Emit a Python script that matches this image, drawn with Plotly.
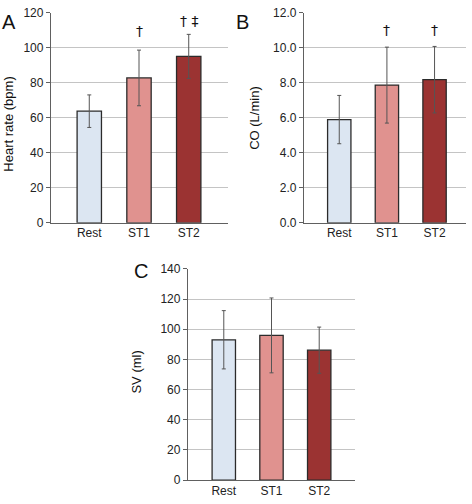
import plotly.graph_objects as go

categories = ["Rest", "ST1", "ST2"]
colors = ["#dce6f2", "#e0928f", "#9b3332"]

hr_mean = [63.8, 82.8, 95.1]
hr_sd = [9.3, 15.9, 12.6]
co_mean = [5.9, 7.87, 8.18]
co_sd = [1.38, 2.17, 1.9]
sv_mean = [93.0, 95.9, 86.1]
sv_sd = [19.3, 24.8, 15.3]

hr_ticks = [0, 20, 40, 60, 80, 100, 120]
co_ticks = [0, 2, 4, 6, 8, 10, 12]
co_ticklabels = ["0.0", "2.0", "4.0", "6.0", "8.0", "10.0", "12.0"]
sv_ticks = [0, 20, 40, 60, 80, 100, 120, 140]

W, H = 472, 504
FONT = "Liberation Sans"

def px_x(a, b):
    return [a / W, b / W]

def px_y(top, bottom):
    return [1 - bottom / H, 1 - top / H]

fig = go.Figure()

panels = [
    ("x", "y", hr_mean, hr_sd),
    ("x2", "y2", co_mean, co_sd),
    ("x3", "y3", sv_mean, sv_sd),
]
for xa, ya, m, sd in panels:
    fig.add_trace(go.Bar(
        x=[0, 1, 2], y=m, xaxis=xa, yaxis=ya, width=0.49,
        marker=dict(color=colors, line=dict(color="#2b2b2b", width=1.3)),
        error_y=dict(type="data", array=sd, visible=True, color="#555555",
                     thickness=1, width=2),
        showlegend=False, hoverinfo="skip",
    ))

axis_common = dict(showline=True, linecolor="#606060", linewidth=1.3,
                   tickfont=dict(family=FONT, size=12, color="#222"),
                   zeroline=False, fixedrange=True)

def xaxis(dom, rng, anchor):
    return dict(domain=dom, range=rng, anchor=anchor, tickvals=[0, 1, 2],
                ticktext=categories, showgrid=False, ticks="",
                ticklabelstandoff=-1, **axis_common)

def yaxis(dom, rng, anchor, tv, tt=None):
    d = dict(domain=dom, range=rng, anchor=anchor, tickvals=tv,
             ticks="outside", ticklen=4, tickcolor="#606060",
             showgrid=True, gridcolor="#c4c4c4", gridwidth=1, **axis_common)
    if tt:
        d["ticktext"] = tt
    return d

fig.update_layout(
    width=W, height=H, margin=dict(l=0, r=0, t=0, b=0),
    plot_bgcolor="white", paper_bgcolor="white", bargap=0.5,
    xaxis=xaxis(px_x(51, 228), [-0.77, 2.79], "y"),
    yaxis=yaxis(px_y(6, 222), [0, 120], "x", hr_ticks),
    xaxis2=xaxis(px_x(304, 466), [-0.74, 2.66], "y2"),
    yaxis2=yaxis(px_y(6, 222), [0, 12], "x2", co_ticks, co_ticklabels),
    xaxis3=xaxis(px_x(188, 355), [-0.75, 2.75], "y3"),
    yaxis3=yaxis(px_y(269.3, 486.7), [0, 140], "x3", sv_ticks),
)

ann = []
def label(text, x, y, size=20, angle=0):
    ann.append(dict(text=text, x=x / W, y=1 - y / H, xref="paper", yref="paper",
                    showarrow=False, textangle=angle,
                    font=dict(family=FONT, size=size, color="#111"),
                    xanchor="center", yanchor="middle"))

label("A", 9, 15)
label("B", 243, 15)
label("C", 141, 272)
label("Heart rate (bpm)", 9, 121, size=13, angle=-90)
label("CO (L/min)", 255, 114, size=13, angle=-90)
label("SV (ml)", 137, 376, size=13, angle=-90)

# significance markers
sig = [("x", "y", 1, 109.5, "†"), ("x", "y", 2, 115.5, "† ‡"),
       ("x2", "y2", 1, 11.0, "†"), ("x2", "y2", 2, 11.0, "†")]
for xa, ya, xv, yv, t in sig:
    ann.append(dict(text=t, x=xv, y=yv, xref=xa, yref=ya, showarrow=False,
                    font=dict(family="DejaVu Sans", size=14, color="#111111"),
                    xanchor="center", yanchor="middle"))

fig.update_layout(annotations=ann)
fig.write_html("out.html", config={"displayModeBar": False},
               post_script="document.body.style.margin='0';document.body.style.overflow='hidden';")
